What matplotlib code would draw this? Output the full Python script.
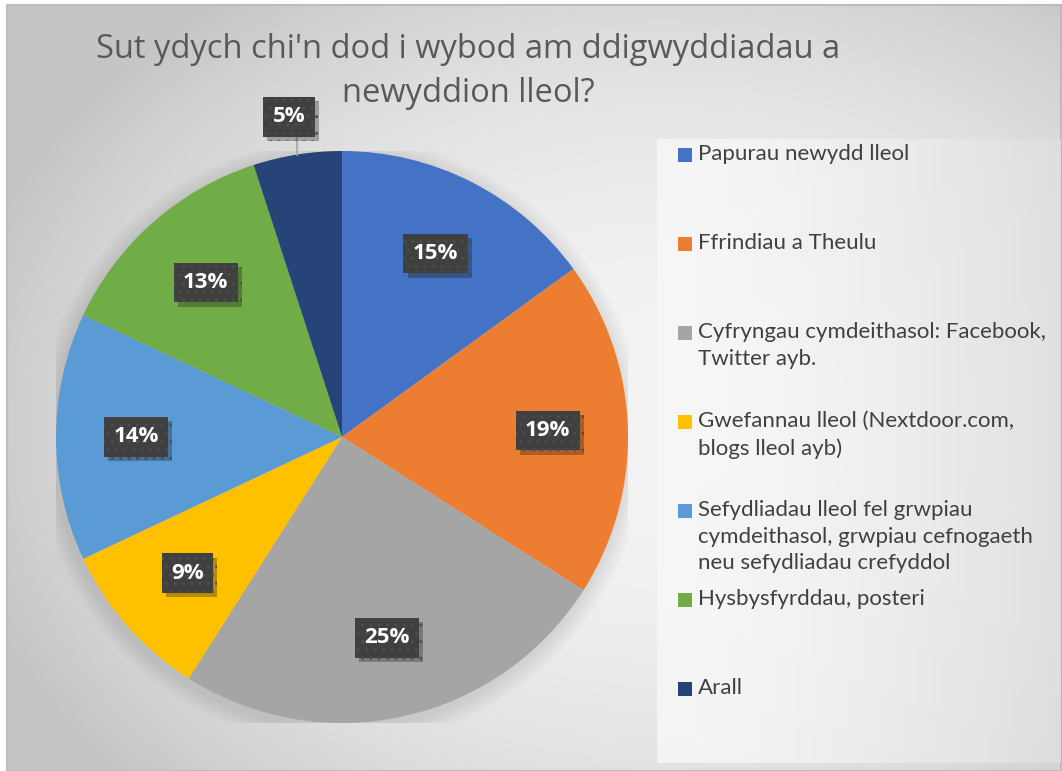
import matplotlib
matplotlib.use('Agg')

import numpy as np
import matplotlib.pyplot as plt
import matplotlib.patheffects as pe
from matplotlib.patches import Rectangle, Circle

# Data
labels = ['Papurau newydd lleol',
          'Ffrindiau a Theulu',
          'Cyfryngau cymdeithasol: Facebook,\nTwitter ayb.',
          'Gwefannau lleol (Nextdoor.com,\nblogs lleol ayb)',
          'Sefydliadau lleol fel grwpiau\ncymdeithasol, grwpiau cefnogaeth\nneu sefydliadau crefyddol',
          'Hysbysfyrddau, posteri',
          'Arall']
values = [15, 19, 25, 9, 14, 13, 5]
colors = ['#4472C4', '#ED7D31', '#A5A5A5', '#FFC000', '#5B9BD5', '#70AD47', '#264478']
title_lines = ["Sut ydych chi'n dod i wybod am ddigwyddiadau a", "newyddion lleol?"]

W, H = 1062, 771
fig = plt.figure(figsize=(W / 100, H / 100), dpi=100)
fig.patch.set_facecolor('white')

# Background: gradient chart area
bg = fig.add_axes([0, 0, 1, 1])
bg.axis('off')
xx, yy = np.meshgrid(np.arange(W), np.arange(H))
d = np.sqrt(((xx - 660) / 720.0) ** 2 + ((yy - 420) / 540.0) ** 2)
d = np.clip(d, 0, 1)
shade = 0.955 - 0.18 * d ** 2.2
img = np.dstack([shade, shade, shade])
bg.imshow(img, extent=(7, 1061, 771, 5), zorder=0)
bg.add_patch(Rectangle((7, 5), 1054, 766, fill=False, ec='#bcbcbc', lw=1.5, zorder=1))

# Legend panel (lighter overlay)
lx0, ly0, lx1, ly1 = 657, 139, 1061, 763
gx = np.linspace(0, 1, 200)
panel = 0.975 - 0.1 * gx ** 1.6
pimg = np.repeat(np.dstack([panel, panel, panel]), 2, axis=0)
bg.imshow(pimg, extent=(lx0, lx1, ly1, ly0), zorder=1, aspect='auto', alpha=0.8)
bg.set_xlim(0, W)
bg.set_ylim(H, 0)

# Title (two centred lines)
for k, line in enumerate(title_lines):
    fig.text(468 / W, 1 - (49 + 45 * k) / H, line, ha='center', va='center',
             fontsize=23.5, color='#595959', family='Open Sans')

# Pie axes
cx, cy, r = 342, 437, 286
ax = fig.add_axes([(cx - r) / W, (H - cy - r) / H, 2 * r / W, 2 * r / H])
ax.axis('off')

# soft shadow behind the pie
for k in range(8):
    ax.add_patch(Circle((-0.005, -0.015), 1.0 + 0.008 * (8 - k), color='black',
                        alpha=0.012, lw=0, zorder=0))

wedges, _ = ax.pie(values, colors=colors, startangle=90, counterclock=False,
                   radius=1, wedgeprops=dict(linewidth=0, zorder=2))
ax.set_xlim(-1, 1)
ax.set_ylim(-1, 1)
ax.set_aspect('equal')

for i, (w, v) in enumerate(zip(wedges, values)):
    th = np.deg2rad((w.theta1 + w.theta2) / 2)
    if i == len(values) - 1:
        ax.plot([np.cos(th), np.cos(th)], [np.sin(th), 1.05],
                color='#a6a6a6', lw=1.2, zorder=3, clip_on=False)
        tx, ty = np.cos(th) * 1.135 - 0.008, 1.12
    else:
        tx, ty = np.cos(th) * 0.72, np.sin(th) * 0.72
    t = ax.text(tx, ty, f'{v}%', ha='center', va='center', fontsize=16, fontweight='bold',
                color='white', family='Open Sans', zorder=5, clip_on=False,
                bbox=dict(boxstyle='square,pad=0.42', fc='#404040', ec='#4d4d4d',
                          lw=0, hatch='..'))
    t.get_bbox_patch().set_path_effects(
        [pe.SimplePatchShadow(offset=(3, -3), alpha=0.3), pe.Normal()])

# Legend (manual, evenly spaced entries)
for i, (lab, c) in enumerate(zip(labels, colors)):
    y = 155 + 89 * i
    bg.add_patch(Rectangle((678, y - 7), 14, 14, fc=c, ec='none', zorder=3))
    bg.text(698, y - 11, lab, ha='left', va='top', fontsize=16, color='#404040',
            family='Lato', linespacing=1.42, zorder=3)

plt.savefig('out.png', dpi=100)
